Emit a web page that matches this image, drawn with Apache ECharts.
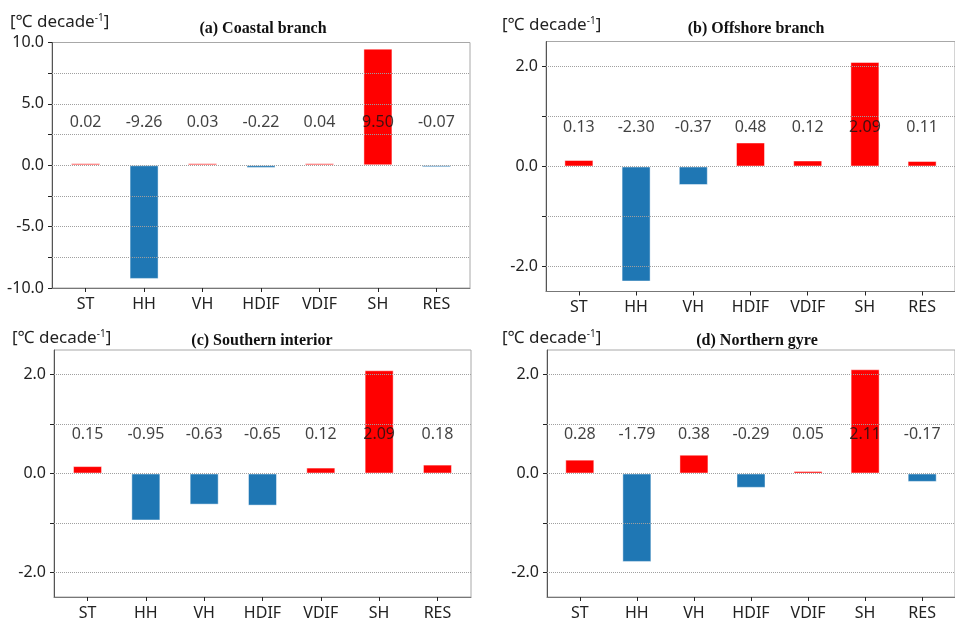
<!DOCTYPE html>
<html>
<head>
<meta charset="utf-8">
<style>
  html, body { margin: 0; padding: 0; background: #fff; }
  #chart { width: 955px; height: 621px; }
</style>
<script src="https://cdn.jsdelivr.net/npm/echarts@6/dist/echarts.min.js"></script>
</head>
<body>
<div id="chart"></div>
<script>
// Heat budget terms, trend per decade
const categories = ['ST', 'HH', 'VH', 'HDIF', 'VDIF', 'SH', 'RES'];
const coastalBranch    = [0.02, -9.26, 0.03, -0.22, 0.04, 9.50, -0.07];
const offshoreBranch   = [0.13, -2.30, -0.37, 0.48, 0.12, 2.09, 0.11];
const southernInterior = [0.15, -0.95, -0.63, -0.65, 0.12, 2.09, 0.18];
const northernGyre     = [0.28, -1.79, 0.38, -0.29, 0.05, 2.11, -0.17];
const panelTitles = ['(a) Coastal branch', '(b) Offshore branch', '(c) Southern interior', '(d) Northern gyre'];

// y-axis ticks / labels for the wide panel and the three narrow-range panels
const ticksWide = [-10, -7.5, -5, -2.5, 0, 2.5, 5, 7.5, 10];
const labelsWide = [-10, -5, 0, 5, 10];
const gridWide = [-7.5, -5, -2.5, 0, 2.5, 5, 7.5];
const ticksNarrow = [-2, -1, 0, 1, 2];
const labelsNarrow = [-2, 0, 2];

const POS = '#ff0000';
const NEG = '#1f77b4';
const FONT = '"Noto Sans", "DejaVu Sans", sans-serif';

const panels = [
  { values: coastalBranch,    left: 52,  top: 42.5, width: 418, height: 245.5, min: -10,  max: 10,  ticks: ticksWide,   labels: labelsWide,   grid: gridWide,    row: 3.45,
    titleX: 263, titleY: 29,  unitX: 10,  unitY: 22 },
  { values: offshoreBranch,   left: 546, top: 41.5, width: 418, height: 250,   min: -2.5, max: 2.5, ticks: ticksNarrow, labels: labelsNarrow, grid: ticksNarrow, row: 0.79,
    titleX: 756, titleY: 29,  unitX: 502, unitY: 25 },
  { values: southernInterior, left: 54,  top: 350,  width: 417, height: 250,   min: -2.5, max: 2.5, ticks: ticksNarrow, labels: labelsNarrow, grid: ticksNarrow, row: 0.8,
    titleX: 262, titleY: 341, unitX: 12,  unitY: 338 },
  { values: northernGyre,     left: 547, top: 350,  width: 418, height: 250,   min: -2.5, max: 2.5, ticks: ticksNarrow, labels: labelsNarrow, grid: ticksNarrow, row: 0.8,
    titleX: 757, titleY: 341, unitX: 502, unitY: 338 }
];

const catIndex = categories.map((c, i) => i);

const grids = [], xAxes = [], yAxes = [], series = [], graphics = [];

panels.forEach((p, k) => {
  grids.push({
    left: p.left, top: p.top, width: p.width, height: p.height,
    show: true, borderColor: '#a8a8a8', borderWidth: 1, backgroundColor: '#fff'
  });

  xAxes.push({
    gridIndex: k, type: 'value', min: -0.575, max: 6.575,
    axisLine: { show: true, onZero: false, lineStyle: { color: '#777', width: 1 } },
    axisTick: { show: true, customValues: catIndex, length: 4, lineStyle: { color: '#222' } },
    axisLabel: {
      customValues: catIndex, margin: 8, fontSize: 16, color: '#222', fontFamily: FONT,
      formatter: v => categories[Math.round(v)]
    },
    splitLine: { show: false }
  });

  yAxes.push({
    gridIndex: k, type: 'value', min: p.min, max: p.max,
    axisLine: { show: true, onZero: false, lineStyle: { color: '#555', width: 1 } },
    axisTick: { show: true, customValues: p.ticks, length: 4, lineStyle: { color: '#222' } },
    axisLabel: {
      customValues: p.labels, margin: 8, fontSize: 16, color: '#222', fontFamily: FONT,
      formatter: v => v.toFixed(1)
    },
    splitLine: { show: false }
  });

  series.push({
    type: 'bar', xAxisIndex: k, yAxisIndex: k, barWidth: 29, barMinHeight: 2, z: 2,
    data: p.values.map((v, i) => ({
      value: [i, v],
      itemStyle: { color: v >= 0 ? POS : NEG, borderColor: 'rgba(255,255,255,0.45)', borderWidth: 1 }
    })),
    animation: false
  });

  // value row above the bars, with dotted grid lines drawn on top of the bars
  series.push({
    type: 'scatter', xAxisIndex: k, yAxisIndex: k, z: 5, symbolSize: 0, silent: true,
    data: catIndex.map(i => [i, p.row]),
    label: {
      show: true, position: 'inside', fontSize: 16, color: '#111', fontFamily: FONT,
      formatter: q => p.values[q.dataIndex].toFixed(2)
    },
    markLine: {
      silent: true, symbol: 'none', label: { show: false }, animation: false,
      lineStyle: { type: 'dotted', color: '#a0a0a0', width: 1 },
      data: p.grid.map(v => ({ yAxis: v }))
    },
    animation: false
  });

  graphics.push({
    type: 'text', x: p.titleX, y: p.titleY, z: 10,
    style: {
      text: panelTitles[k], align: 'center', verticalAlign: 'middle',
      font: 'bold 16px "Liberation Serif", "Times New Roman", serif', fill: '#111'
    }
  });
  graphics.push({
    type: 'text', x: p.unitX, y: p.unitY, z: 10,
    style: {
      text: '[℃ decade{sup|-1}]', align: 'left', verticalAlign: 'middle',
      font: '17px ' + FONT, fill: '#222',
      rich: { sup: { fontSize: 10, fontFamily: FONT, fill: '#222', padding: [0, 0, 8, 0] } }
    }
  });
});

const chart = echarts.init(document.getElementById('chart'), null, { renderer: 'canvas' });
chart.setOption({
  backgroundColor: '#fff',
  animation: false,
  grid: grids,
  xAxis: xAxes,
  yAxis: yAxes,
  series: series,
  graphic: graphics
});
</script>
</body>
</html>
